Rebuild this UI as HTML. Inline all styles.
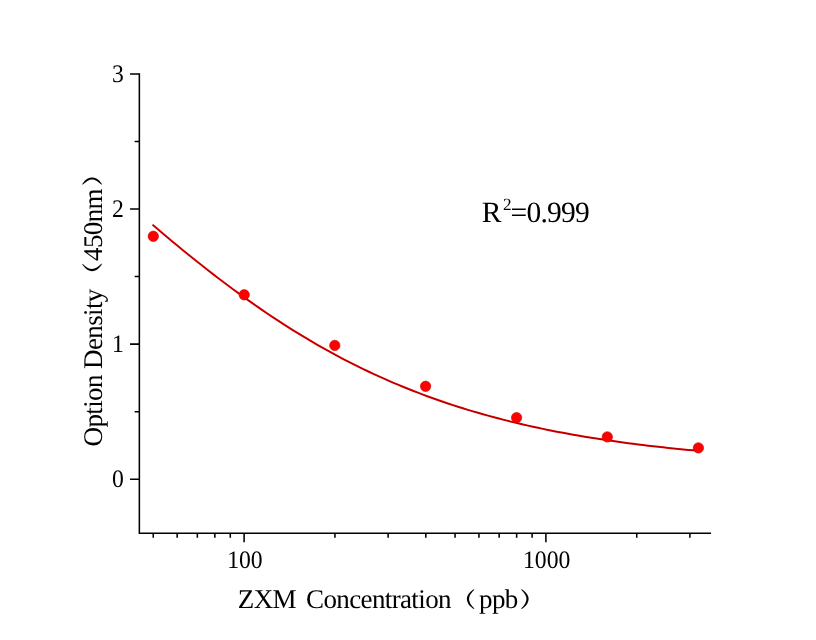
<!DOCTYPE html>
<html><head><meta charset="utf-8"><title>ZXM Standard Curve</title>
<style>
html,body{margin:0;padding:0;background:#fff;}
svg{display:block;}
text{text-rendering:geometricPrecision;font-family:"Liberation Serif","Noto Serif CJK SC",serif;fill:#000;}
.tk{font-size:25.2px;}
.ti{font-size:27px;letter-spacing:-0.62px;}
.cj{font-size:26px;font-family:"Liberation Serif","NanumGothic",serif;}
.an{font-size:29.5px;letter-spacing:-0.6px;}
</style></head><body>
<svg width="816" height="640" viewBox="0 0 816 640">
<rect width="816" height="640" fill="#fff"/>
<path d="M139.35,73.15 V533.925 M138.575,533.15 H711" stroke="#000" stroke-width="1.55" fill="none"/>
<path d="M130.04999999999998,479.22 H139.35 M130.04999999999998,344.12 H139.35 M130.04999999999998,209.02 H139.35 M130.04999999999998,73.92 H139.35 M134.65,411.67 H139.35 M134.65,276.57 H139.35 M134.65,141.47 H139.35 M244.10,533.15 V542.15 M545.90,533.15 V542.15 M153.25,533.15 V537.85 M177.15,533.15 V537.85 M197.35,533.15 V537.85 M214.85,533.15 V537.85 M230.29,533.15 V537.85 M334.95,533.15 V537.85 M388.10,533.15 V537.85 M425.80,533.15 V537.85 M455.05,533.15 V537.85 M478.95,533.15 V537.85 M499.15,533.15 V537.85 M516.65,533.15 V537.85 M532.09,533.15 V537.85 M636.75,533.15 V537.85 M689.90,533.15 V537.85" stroke="#000" stroke-width="1.55" fill="none"/>
<text transform="translate(123.9,487.12) scale(0.94,1)" text-anchor="end" class="tk">0</text>
<text transform="translate(123.9,352.02) scale(0.94,1)" text-anchor="end" class="tk">1</text>
<text transform="translate(123.9,216.92) scale(0.94,1)" text-anchor="end" class="tk">2</text>
<text transform="translate(123.9,81.82) scale(0.94,1)" text-anchor="end" class="tk">3</text>
<text transform="translate(244.90,568) scale(0.94,1)" text-anchor="middle" class="tk">100</text>
<text transform="translate(546.70,568) scale(0.94,1)" text-anchor="middle" class="tk">1000</text>
<path d="M152.6,224.84 L157.6,229.09 L162.6,233.32 L167.6,237.51 L172.6,241.68 L177.6,245.82 L182.6,249.93 L187.6,254.01 L192.6,258.05 L197.6,262.05 L202.7,266.02 L207.7,269.95 L212.7,273.84 L217.7,277.69 L222.7,281.50 L227.7,285.27 L232.7,288.99 L237.7,292.67 L242.7,296.31 L247.7,299.89 L252.7,303.44 L257.7,306.93 L262.7,310.38 L267.7,313.78 L272.7,317.12 L277.7,320.43 L282.7,323.68 L287.7,326.88 L292.8,330.03 L297.8,333.13 L302.8,336.18 L307.8,339.18 L312.8,342.13 L317.8,345.03 L322.8,347.87 L327.8,350.67 L332.8,353.42 L337.8,356.11 L342.8,358.76 L347.8,361.36 L352.8,363.91 L357.8,366.40 L362.8,368.85 L367.8,371.25 L372.8,373.61 L377.8,375.91 L382.9,378.17 L387.9,380.38 L392.9,382.55 L397.9,384.66 L402.9,386.74 L407.9,388.77 L412.9,390.75 L417.9,392.69 L422.9,394.59 L427.9,396.45 L432.9,398.26 L437.9,400.03 L442.9,401.77 L447.9,403.46 L452.9,405.11 L457.9,406.73 L462.9,408.30 L467.9,409.84 L473.0,411.34 L478.0,412.81 L483.0,414.24 L488.0,415.64 L493.0,417.00 L498.0,418.33 L503.0,419.62 L508.0,420.89 L513.0,422.12 L518.0,423.32 L523.0,424.49 L528.0,425.63 L533.0,426.75 L538.0,427.83 L543.0,428.89 L548.0,429.92 L553.0,430.92 L558.0,431.90 L563.1,432.85 L568.1,433.77 L573.1,434.68 L578.1,435.55 L583.1,436.41 L588.1,437.24 L593.1,438.05 L598.1,438.84 L603.1,439.61 L608.1,440.36 L613.1,441.09 L618.1,441.79 L623.1,442.48 L628.1,443.15 L633.1,443.80 L638.1,444.44 L643.1,445.06 L648.1,445.66 L653.2,446.24 L658.2,446.81 L663.2,447.36 L668.2,447.90 L673.2,448.42 L678.2,448.93 L683.2,449.42 L688.2,449.90 L693.2,450.37 L698.2,450.82" stroke="#ea0000" stroke-width="2.0" fill="none"/>
<path d="M152.6,224.84 L157.6,229.09 L162.6,233.32 L167.6,237.51 L172.6,241.68 L177.6,245.82 L182.6,249.93 L187.6,254.01 L192.6,258.05 L197.6,262.05 L202.7,266.02 L207.7,269.95 L212.7,273.84 L217.7,277.69 L222.7,281.50 L227.7,285.27 L232.7,288.99 L237.7,292.67 L242.7,296.31 L247.7,299.89 L252.7,303.44 L257.7,306.93 L262.7,310.38 L267.7,313.78 L272.7,317.12 L277.7,320.43 L282.7,323.68 L287.7,326.88 L292.8,330.03 L297.8,333.13 L302.8,336.18 L307.8,339.18 L312.8,342.13 L317.8,345.03 L322.8,347.87 L327.8,350.67 L332.8,353.42 L337.8,356.11 L342.8,358.76 L347.8,361.36 L352.8,363.91 L357.8,366.40 L362.8,368.85 L367.8,371.25 L372.8,373.61 L377.8,375.91 L382.9,378.17 L387.9,380.38 L392.9,382.55 L397.9,384.66 L402.9,386.74 L407.9,388.77 L412.9,390.75 L417.9,392.69 L422.9,394.59 L427.9,396.45 L432.9,398.26 L437.9,400.03 L442.9,401.77 L447.9,403.46 L452.9,405.11 L457.9,406.73 L462.9,408.30 L467.9,409.84 L473.0,411.34 L478.0,412.81 L483.0,414.24 L488.0,415.64 L493.0,417.00 L498.0,418.33 L503.0,419.62 L508.0,420.89 L513.0,422.12 L518.0,423.32 L523.0,424.49 L528.0,425.63 L533.0,426.75 L538.0,427.83 L543.0,428.89 L548.0,429.92 L553.0,430.92 L558.0,431.90 L563.1,432.85 L568.1,433.77 L573.1,434.68 L578.1,435.55 L583.1,436.41 L588.1,437.24 L593.1,438.05 L598.1,438.84 L603.1,439.61 L608.1,440.36 L613.1,441.09 L618.1,441.79 L623.1,442.48 L628.1,443.15 L633.1,443.80 L638.1,444.44 L643.1,445.06 L648.1,445.66 L653.2,446.24 L658.2,446.81 L663.2,447.36 L668.2,447.90 L673.2,448.42 L678.2,448.93 L683.2,449.42 L688.2,449.90 L693.2,450.37 L698.2,450.82" stroke="#8a0000" stroke-width="0.7" fill="none"/>
<circle cx="153.3" cy="236.3" r="5.2" fill="#ff0000" stroke="#c40000" stroke-width="0.6"/>
<circle cx="244.2" cy="294.8" r="5.2" fill="#ff0000" stroke="#c40000" stroke-width="0.6"/>
<circle cx="334.8" cy="345.4" r="5.2" fill="#ff0000" stroke="#c40000" stroke-width="0.6"/>
<circle cx="425.6" cy="386.3" r="5.2" fill="#ff0000" stroke="#c40000" stroke-width="0.6"/>
<circle cx="516.6" cy="417.6" r="5.2" fill="#ff0000" stroke="#c40000" stroke-width="0.6"/>
<circle cx="607.3" cy="436.9" r="5.2" fill="#ff0000" stroke="#c40000" stroke-width="0.6"/>
<circle cx="698.4" cy="447.9" r="5.2" fill="#ff0000" stroke="#c40000" stroke-width="0.6"/>
<text x="237.8" y="607.8" class="ti">ZXM</text>
<text x="306.0" y="607.8" class="ti">Concentration</text>
<text transform="translate(471,599.3) scale(1.3,0.77)" x="-20" y="9" class="cj">（</text>
<text x="479.0" y="607.8" class="ti">ppb</text>
<text transform="translate(525.3,599.3) scale(1.3,0.77)" x="-5" y="9" class="cj">）</text>
<g transform="translate(101.8,446.4) rotate(-90)"><text x="0" y="0" class="ti">Option Density</text><text transform="translate(179.45,-9.4) scale(1.3,0.77)" x="-20" y="9" class="cj">（</text><text x="185.5" y="0" class="ti">450nm</text><text transform="translate(265.75,-9.4) scale(1.3,0.77)" x="-5" y="9" class="cj">）</text></g>
<text x="481.7" y="221.5" class="an">R</text>
<text x="503.0" y="209.5" class="an" style="font-size:17.2px">2</text>
<text x="510.6" y="221.5" class="an" style="letter-spacing:-0.75px">=0.999</text>
</svg>
</body></html>
